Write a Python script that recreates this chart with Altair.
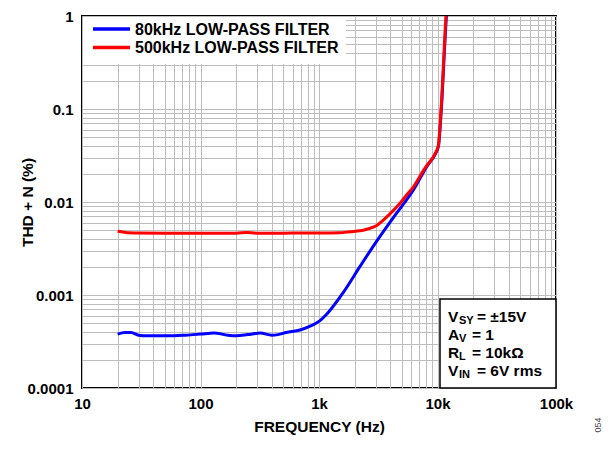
import json
import altair as alt
import pandas as pd

# ---- data ----
BLUE_NAME = "80kHz LOW-PASS FILTER"
RED_NAME = "500kHz LOW-PASS FILTER"

BLUE_F = [20, 23, 26, 30, 35, 45, 60, 75, 100, 130, 170, 200, 250, 320, 400, 450, 530,
          690, 850, 1020, 1160, 1600, 2220, 3070, 4240, 5670, 6200, 7550, 8110, 9530,
          10200, 10550, 10900, 11250, 11900, 12300]
BLUE_T = [0.00038, 0.000395, 0.000395, 0.00037, 0.000365, 0.000365, 0.000365, 0.00037,
          0.00038, 0.00039, 0.00037, 0.000365, 0.000375, 0.00039, 0.00037, 0.000375,
          0.000395, 0.00042, 0.000465, 0.00053, 0.00062, 0.00106, 0.00203, 0.0038, 0.0068,
          0.0112, 0.0132, 0.0205, 0.0240, 0.0324, 0.040, 0.066, 0.126, 0.277, 1.0, 1.6]

RED_F = [20, 25, 30, 50, 100, 200, 245, 300, 500, 700, 1000, 1500, 1830, 2220, 2530,
         3070, 3490, 3990, 4830, 5670, 6200, 7550, 8110, 9530, 10170, 10500, 10840,
         11190, 11800, 12200]
RED_T = [0.00486, 0.00467, 0.00463, 0.00462, 0.00462, 0.00462, 0.0047, 0.00462, 0.00462,
         0.00464, 0.00464, 0.00467, 0.0048, 0.0049, 0.0051, 0.0056, 0.0064,
         0.0075, 0.0097, 0.0125, 0.0143, 0.0215, 0.0246, 0.0330, 0.0405, 0.066, 0.126,
         0.277, 1.0, 1.6]

X_TICKS = [10, 100, 1000, 10000, 100000]
X_LABELS = ["10", "100", "1k", "10k", "100k"]
Y_TICKS = [0.0001, 0.001, 0.01, 0.1, 1]
Y_LABELS = ["0.0001", "0.001", "0.01", "0.1", "1"]

X_TITLE = "FREQUENCY (Hz)"
Y_TITLE = "THD + N (%)"

ANNOT_MAIN = ["V", "A", "R", "V"]
ANNOT_SUB = ["SY", "V", "L", "IN"]
ANNOT_REST = ["= ±15V", "= 1", "= 10kΩ", "= 6V rms"]
FIG_ID = "054"

# ---- layout ----
W, H = 474, 372
FONT = "Liberation Sans"
FS = 15

x_grid = X_TICKS + [m * d for d in X_TICKS[:-1] for m in range(2, 10)]
y_grid = Y_TICKS + [m * d for d in Y_TICKS[:-1] for m in range(2, 10)]


def label_expr(ticks, labels):
    t = json.dumps(ticks)
    l = json.dumps(labels)
    return f"indexof({t}, datum.value) >= 0 ? {l}[indexof({t}, datum.value)] : ''"


blue_df = pd.DataFrame({"f": BLUE_F, "thd": BLUE_T, "s": BLUE_NAME})
red_df = pd.DataFrame({"f": RED_F, "thd": RED_T, "s": RED_NAME})

x_enc = alt.X(
    "f:Q",
    scale=alt.Scale(type="log", domain=[X_TICKS[0], X_TICKS[-1]], nice=False),
    axis=alt.Axis(
        values=x_grid, labelExpr=label_expr(X_TICKS, X_LABELS), title=X_TITLE,
        grid=True, gridColor="#bdbdbd", gridWidth=1, ticks=False, tickSize=0,
        domain=False, labelPadding=8, titlePadding=8, labelFlush=False,
        labelOverlap=False, labelFontSize=FS, labelFontWeight="bold",
        titleFontSize=15.5, titleFontWeight="bold", labelColor="black", titleColor="black",
    ),
)
y_enc = alt.Y(
    "thd:Q",
    scale=alt.Scale(type="log", domain=[Y_TICKS[0], Y_TICKS[-1]], nice=False),
    axis=alt.Axis(
        values=y_grid, labelExpr=label_expr(Y_TICKS, Y_LABELS), title=Y_TITLE,
        grid=True, gridColor="#bdbdbd", gridWidth=1, ticks=False, tickSize=0,
        domain=False, labelPadding=9, labelFlush=False, labelOverlap=False,
        labelFontSize=FS, labelFontWeight="bold", titleFontSize=15.5,
        titleFontWeight="bold", labelColor="black", titleColor="black",
        titleX=-55, titleBaseline="middle",
    ),
)

blue_line = alt.Chart(blue_df).mark_line(
    color="#0000ff", strokeWidth=3, interpolate="monotone", clip=True
).encode(x=x_enc, y=y_enc)
red_line = alt.Chart(red_df).mark_line(
    color="#ff0000", strokeWidth=3, interpolate="monotone", clip=True
).encode(x=x_enc, y=y_enc)

one = pd.DataFrame({"k": [0]})


def txt(s, x, y, size=FS, bold=True, align="left", angle=0, color="black"):
    return alt.Chart(one).mark_text(
        text=s, align=align, baseline="middle", fontSize=size,
        fontWeight="bold" if bold else "normal", font=FONT, color=color,
        angle=angle,
    ).encode(x=alt.value(x), y=alt.value(y))


def rect(x1, x2, y1, y2, stroke=None):
    kw = dict(fill="white")
    if stroke:
        kw.update(stroke=stroke, strokeWidth=1.5)
    else:
        kw.update(strokeWidth=0)
    return alt.Chart(one).mark_rect(**kw).encode(
        x=alt.value(x1), x2=alt.value(x2), y=alt.value(y1), y2=alt.value(y2)
    )


def seg(x1, x2, y, color):
    return alt.Chart(one).mark_rule(color=color, strokeWidth=3.5).encode(
        x=alt.value(x1), x2=alt.value(x2), y=alt.value(y)
    )


layers = [blue_line, red_line]

# legend box
layers += [
    rect(1, 264, 1, 48),
    seg(11, 48, 13, "#0000ff"),
    seg(11, 48, 31.5, "#ff0000"),
    txt(BLUE_NAME, 53, 13.5, size=16),
    txt(RED_NAME, 53, 32, size=16),
]

# annotation box
layers.append(rect(358, W, 283, H, stroke="black"))
line_y = [300.5, 318.5, 337, 354.5]
sub_x = [377, 377, 377, 377]
rest_x = [395, 390, 390, 395]
for i in range(4):
    layers.append(txt(ANNOT_MAIN[i], 366, line_y[i], size=15.5))
    layers.append(txt(ANNOT_SUB[i], sub_x[i], line_y[i] + 4, size=11))
    layers.append(txt(ANNOT_REST[i], rest_x[i], line_y[i], size=15.5))

layers.append(txt(FIG_ID, W + 42, 409, size=9, bold=False, align="center",
                  angle=270, color="#444444"))

chart = alt.layer(*layers).properties(
    width=W, height=H,
    padding={"left": 74, "top": 8, "right": 52, "bottom": 53},
    autosize=alt.AutoSizeParams(type="none"),
).configure(font=FONT).configure_view(
    stroke="black", strokeWidth=2
)

chart.save("out.html", embed_options={"renderer": "svg", "actions": False})
